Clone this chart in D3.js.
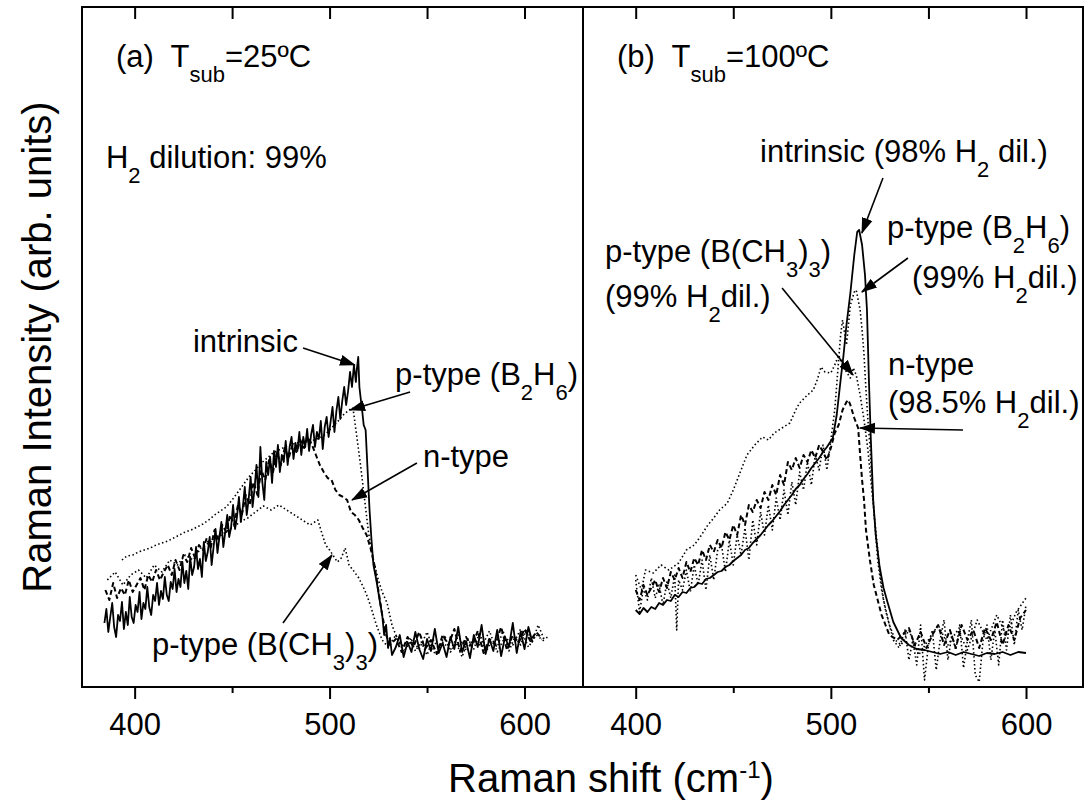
<!DOCTYPE html>
<html>
<head>
<meta charset="utf-8">
<script src="https://cdn.jsdelivr.net/npm/d3@7"></script>
<style>
  html, body { margin: 0; padding: 0; background: #fff; }
  svg { display: block; font-family: "Liberation Sans", Arial, Helvetica, sans-serif; }
</style>
</head>
<body>
<div id="chart"></div>
<script>
// x ticks (Raman shift, cm-1)
const shiftTicks = [400, 500, 600];
const shiftMinorTicks = [450, 550];

// (a) Tsub = 25 C : [shift, intensity (arb. units)]
const leftIntrinsic = [
  [384.5, 64], [385.5, 78], [386.5, 55], [387.5, 70], [388.5, 84], [389.5, 60], [390.5, 50], [391.5, 72],
  [392.5, 66], [393.5, 85], [394.5, 58], [395.5, 75], [396.5, 62], [397.5, 90], [398.5, 70], [399.5, 64],
  [400.5, 82], [401.5, 75], [402.5, 95], [403.5, 68], [404.5, 84], [405.5, 78], [406.5, 100], [407.5, 80],
  [408.5, 72], [409.5, 92], [410.5, 86], [411.5, 104], [412.5, 82], [413.5, 96], [414.5, 88], [415.5, 110],
  [416.5, 92], [417.5, 86], [418.5, 105], [419.5, 98], [420.5, 118], [421.5, 95], [422.5, 108], [423.5, 100],
  [424.5, 125], [425.5, 104], [426.5, 116], [427.5, 98], [428.5, 130], [429.5, 112], [430.5, 120], [431.5, 140],
  [432.5, 118], [433.5, 128], [434.5, 110], [435.5, 145], [436.5, 126], [437.5, 135], [438.5, 150], [439.5, 122],
  [440.5, 140], [441.5, 158], [442.5, 134], [443.5, 150], [444.5, 165], [445.5, 140], [446.5, 155], [447.5, 172],
  [448.5, 150], [449.5, 160], [450.5, 182], [451.5, 158], [452.5, 170], [453.5, 190], [454.5, 165], [455.5, 180],
  [456.5, 200], [457.5, 172], [458.5, 188], [459.5, 210], [460.5, 180], [461.5, 198], [462.5, 222], [463.5, 190],
  [464.5, 240], [465.5, 205], [466.5, 187], [467.5, 225], [468.5, 212], [469.5, 230], [470.5, 204], [471.5, 236],
  [472.5, 220], [473.5, 242], [474.5, 215], [475.5, 232], [476.5, 225], [477.5, 246], [478.5, 222], [479.5, 240],
  [480.5, 250], [481.5, 228], [482.5, 244], [483.5, 236], [484.5, 255], [485.5, 232], [486.5, 250], [487.5, 240],
  [488.5, 258], [489.5, 236], [490.5, 252], [491.5, 262], [492.5, 240], [493.5, 255], [494.5, 248], [495.5, 266],
  [496.5, 238], [497.5, 260], [498.5, 270], [499.5, 250], [500.5, 265], [501.5, 280], [502.5, 255], [503.5, 276],
  [504.5, 290], [505.5, 268], [506.5, 286], [507.5, 300], [508.5, 282], [509.5, 296], [510.5, 315], [511.5, 300],
  [512.5, 322], [513.5, 305], [514, 318], [514.7, 330], [515.3, 300], [516, 288], [516.8, 275], [517.5, 262],
  [518.5, 257], [519.5, 217], [520.5, 177], [521.5, 147], [522.5, 122], [524, 107], [525.5, 89], [527, 72],
  [528, 52], [529, 62], [530, 39], [531, 49], [532, 32], [534, 40], [536, 52], [538, 30],
  [540, 45], [542, 35], [544, 55], [546, 38], [548, 28], [550, 48], [552, 36], [554, 58],
  [556, 34], [558, 44], [560, 30], [562, 50], [564, 38], [566, 60], [568, 35], [570, 46],
  [572, 29], [574, 52], [576, 40], [578, 62], [580, 33], [582, 48], [584, 36], [586, 57],
  [588, 31], [590, 50], [592, 40], [594, 64], [596, 34], [598, 55], [600, 38], [602, 60],
  [604, 45]
];
const leftB2H6 = [
  [393.5, 127], [396, 131], [399, 132], [402, 135], [405, 137], [408, 139], [411, 142], [414, 144],
  [417, 146], [420, 149], [423, 152], [426, 155], [429, 157], [432, 160], [435, 163], [438, 167],
  [441, 172], [444, 176], [447, 180], [450, 187], [453, 195], [456, 203], [459, 211], [462, 217],
  [465, 224], [468, 229], [471, 234], [474, 237], [477, 240], [480, 242], [483, 244], [486, 245],
  [489, 246], [492, 247], [495, 249], [498, 253], [501, 259], [504, 265], [507, 272], [510, 277],
  [512, 279], [514, 250], [516, 220], [518, 187], [520, 154], [522.5, 127], [525, 107], [527, 95],
  [529.5, 84], [532, 62], [535, 47], [538, 40], [541, 50], [544, 36], [547, 45], [550, 32],
  [553, 48], [556, 38], [559, 52], [562, 35], [565, 44], [568, 30], [571, 48], [574, 38],
  [577, 55], [580, 34], [583, 46], [586, 40], [589, 56], [592, 36], [595, 50], [598, 42],
  [601, 58], [604, 45], [607, 62], [610, 48], [612, 50]
];
const leftNType = [
  [385, 97], [387, 87], [389, 104], [391, 89], [393, 99], [395, 92], [397, 107], [399, 95],
  [401, 102], [403, 109], [405, 97], [407, 112], [409, 105], [411, 117], [413, 107], [415, 115],
  [417, 122], [419, 112], [421, 127], [423, 117], [425, 132], [427, 125], [429, 139], [431, 129],
  [433, 142], [435, 137], [437, 149], [439, 139], [441, 157], [443, 147], [445, 162], [447, 155],
  [449, 172], [451, 162], [453, 182], [455, 172], [457, 192], [459, 182], [461, 205], [463, 192],
  [465, 217], [467, 207], [469, 227], [471, 215], [473, 235], [475, 222], [477, 239], [479, 229],
  [481, 242], [483, 235], [485, 247], [487, 239], [489, 250], [491, 242], [493, 232], [495, 222],
  [497, 215], [499, 209], [501, 207], [503, 197], [505, 192], [507, 190], [509, 187], [511, 175],
  [513, 172], [515, 167], [517, 159], [519, 152], [521, 139], [523, 122], [525, 97], [527, 72],
  [529, 52], [531, 42], [534, 48], [537, 35], [540, 50], [543, 40], [546, 55], [549, 38],
  [552, 47], [555, 33], [558, 52], [561, 42], [564, 58], [567, 36], [570, 50], [573, 40],
  [576, 56], [579, 34], [582, 48], [585, 42], [588, 60], [591, 37], [594, 52], [597, 44],
  [600, 58], [603, 46], [606, 55], [609, 48]
];
const leftBCH3 = [
  [386, 107], [390, 115], [394, 102], [398, 112], [402, 117], [406, 109], [410, 122], [414, 115],
  [418, 127], [422, 122], [426, 132], [430, 127], [434, 139], [438, 144], [442, 149], [446, 154],
  [450, 159], [454, 165], [458, 169], [462, 175], [466, 181], [470, 177], [474, 182], [478, 177],
  [482, 172], [486, 167], [490, 162], [494, 167], [496, 154], [498, 142], [500, 137], [502, 131],
  [504, 125], [506, 129], [508, 139], [510, 122], [512, 117], [515, 109], [518, 97], [520, 87],
  [522, 75], [524, 62], [527, 47], [530, 40], [534, 52], [538, 35], [542, 47], [546, 38],
  [550, 55], [554, 33], [558, 45], [562, 37], [566, 52], [570, 36], [574, 48], [578, 40],
  [582, 56], [586, 35], [590, 50], [594, 42], [598, 58], [602, 40], [606, 52], [610, 46]
];

// (b) Tsub = 100 C
const rightIntrinsic = [
  [400, 77], [402, 73], [404, 79], [406, 75], [408, 80], [410, 78], [412, 84], [414, 82],
  [416, 87], [418, 86], [420, 92], [422, 90], [424, 95], [426, 94], [428, 99], [430, 100],
  [432, 104], [434, 103], [436, 108], [438, 109], [440, 112], [442, 115], [444, 116], [446, 120],
  [448, 122], [450, 126], [452, 129], [454, 132], [456, 137], [458, 139], [460, 144], [462, 148],
  [464, 152], [466, 157], [468, 162], [470, 166], [472, 171], [474, 176], [476, 182], [478, 187],
  [480, 192], [482, 198], [484, 202], [486, 208], [488, 213], [490, 219], [492, 224], [494, 229],
  [496, 235], [498, 240], [500, 246], [501, 249], [503, 272], [505, 307], [506.5, 332], [508, 362],
  [510, 394], [512, 432], [513.5, 455], [514.5, 457], [516, 442], [517.5, 412], [518.5, 377], [519.5, 307],
  [520.5, 247], [521.7, 187], [523, 152], [525, 120], [527, 99], [529, 85], [532, 65], [536, 49],
  [540, 42], [544, 38], [548, 37], [552, 35], [556, 33], [560, 35], [564, 32], [568, 35],
  [572, 33], [576, 31], [580, 34], [584, 33], [588, 35], [592, 32], [596, 35], [600, 34]
];
const rightB2H6 = [
  [400, 107], [402, 75], [404, 99], [406, 87], [408, 109], [410, 89], [412, 102], [414, 82],
  [416, 105], [418, 89], [420, 112], [421, 57], [422, 107], [424, 97], [426, 117], [428, 95],
  [430, 122], [432, 102], [434, 127], [436, 97], [438, 132], [440, 107], [442, 137], [444, 142],
  [446, 115], [448, 147], [450, 122], [452, 152], [454, 132], [456, 159], [458, 127], [460, 167],
  [462, 142], [464, 175], [466, 152], [468, 182], [470, 157], [472, 189], [474, 167], [476, 197],
  [478, 172], [480, 205], [482, 182], [484, 215], [486, 197], [488, 225], [490, 202], [492, 232],
  [494, 217], [496, 242], [498, 217], [500, 247], [502, 277], [504, 327], [505, 352], [506, 367],
  [508, 342], [510, 382], [512, 395], [513, 397], [514, 387], [515, 377], [516, 357], [517, 332],
  [518, 297], [519, 267], [520, 242], [521, 207], [522, 177], [524, 127], [526, 97], [528, 77],
  [530, 62], [532, 47], [535, 39], [538, 57], [540, 27], [542, 47], [544, 22], [546, 62],
  [548, 7], [550, 42], [552, 57], [554, 17], [556, 47], [558, 67], [560, 27], [562, 52],
  [564, 37], [566, 62], [568, 19], [570, 47], [572, 67], [574, 12], [576, 5], [578, 47],
  [580, 62], [582, 27], [584, 57], [586, 22], [588, 67], [590, 37], [592, 72], [594, 42],
  [596, 77], [598, 57], [600, 82]
];
const rightBCH3 = [
  [400, 112], [403, 97], [405, 117], [409, 114], [413, 122], [417, 117], [422, 124], [426, 137],
  [430, 142], [433, 150], [437, 162], [440, 169], [443, 177], [447, 184], [450, 197], [453, 212],
  [457, 232], [461, 242], [465, 250], [468, 247], [471, 254], [475, 259], [479, 264], [482, 277],
  [484, 284], [488, 292], [491, 297], [493, 307], [495, 320], [497, 315], [500, 314], [502, 322],
  [504, 332], [506, 322], [508, 315], [510, 309], [511.5, 319], [513, 312], [515, 292], [517, 267],
  [519, 237], [521, 197], [523, 157], [525, 117], [527, 87], [530, 62], [533, 47], [536, 42],
  [540, 57], [545, 32], [550, 47], [555, 62], [560, 42], [565, 57], [570, 37], [575, 67],
  [580, 47], [585, 72], [590, 52], [595, 75], [600, 89]
];
const rightNType = [
  [400, 97], [402, 87], [404, 102], [406, 92], [408, 99], [410, 107], [412, 95], [414, 109],
  [416, 99], [418, 115], [420, 107], [422, 119], [424, 109], [426, 125], [428, 115], [430, 129],
  [432, 122], [434, 137], [436, 127], [438, 142], [440, 135], [442, 147], [444, 139], [446, 155],
  [448, 147], [450, 162], [452, 152], [454, 172], [456, 162], [458, 182], [460, 175], [462, 187],
  [464, 179], [466, 195], [468, 187], [470, 202], [472, 192], [474, 212], [476, 202], [478, 225],
  [480, 217], [482, 229], [484, 219], [486, 232], [488, 225], [490, 237], [492, 229], [494, 242],
  [496, 235], [498, 227], [500, 239], [502, 254], [504, 262], [506, 277], [508, 285], [509, 287],
  [510, 282], [512, 269], [514, 259], [515, 232], [516, 207], [517, 187], [518, 157], [520, 127],
  [522, 102], [524, 87], [526, 72], [528, 62], [530, 52], [534, 47], [540, 59], [543, 42],
  [546, 55], [549, 39], [552, 52], [555, 62], [558, 42], [561, 57], [564, 39], [567, 62],
  [570, 47], [573, 57], [576, 39], [579, 59], [582, 47], [585, 65], [588, 42], [591, 62],
  [594, 47], [597, 69], [600, 77]
];

const INTENSITY_DOMAIN = [0, 680];
const FRAME = { top: 7, bottom: 687 };
const FONT_SIZE = 31;
const SUB_SIZE = 22;
const SUB_SHIFT = 15;

const LINE_STYLES = {
  solid: { width: 1.8, dash: null },
  dotted: { width: 1.6, dash: "1.5 2.5" },
  dashed: { width: 2, dash: "5 3" }
};

/**
 * Panel definitions, built from the arrays above.
 */
const PANELS = [
  {
    range: [82, 583],
    domain: [373, 630],
    series: [
      { data: leftB2H6, style: "dotted" },
      { data: leftBCH3, style: "dotted" },
      { data: leftNType, style: "dashed" },
      { data: leftIntrinsic, style: "solid" }
    ],
    labels: [
      { at: [390.4, 620], parts: [["(a)  T"], ["sub", "sub"], ["=25ºC"]] },
      { at: [385.3, 519], parts: [["H"], ["2", "sub"], [" dilution: 99%"]] },
      { at: [429.9, 335], parts: [["intrinsic"]] },
      { at: [533.6, 302], parts: [["p-type (B"], ["2", "sub"], ["H"], ["6", "sub"], [")"]] },
      { at: [547.9, 220], parts: [["n-type"]] },
      { at: [408.9, 32], parts: [["p-type (B(CH"], ["3", "sub"], [")"], ["3", "sub"], [")"]] }
    ],
    arrows: [
      { from: [486.4, 339], to: [513.0, 322] },
      { from: [541.3, 295], to: [510.5, 277] },
      { from: [544.8, 224], to: [511.5, 187] },
      { from: [476.1, 64], to: [501.2, 132] }
    ]
  },
  {
    range: [583, 1083],
    domain: [373, 629.2],
    series: [
      { data: rightB2H6, style: "dotted" },
      { data: rightBCH3, style: "dotted" },
      { data: rightNType, style: "dashed" },
      { data: rightIntrinsic, style: "solid" }
    ],
    labels: [
      { at: [390.4, 620], parts: [["(b)  T"], ["sub", "sub"], ["=100ºC"]] },
      { at: [463.7, 525], parts: [["intrinsic (98% H"], ["2", "sub"], [" dil.)"]] },
      { at: [528.8, 449], parts: [["p-type (B"], ["2", "sub"], ["H"], ["6", "sub"], [")"]] },
      { at: [541.6, 399], parts: [["(99% H"], ["2", "sub"], ["dil.)"]] },
      { at: [384.3, 425], parts: [["p-type (B(CH"], ["3", "sub"], [")"], ["3", "sub"], [")"]] },
      { at: [384.3, 380], parts: [["(99% H"], ["2", "sub"], ["dil.)"]] },
      { at: [529.3, 312], parts: [["n-type"]] },
      { at: [529.3, 274], parts: [["(98.5% H"], ["2", "sub"], ["dil.)"]] }
    ],
    arrows: [
      { from: [526.7, 509], to: [515.9, 454] },
      { from: [539.5, 429], to: [515.9, 395] },
      { from: [475.0, 399], to: [511.4, 312] },
      { from: [567.7, 257], to: [514.9, 259] }
    ]
  }
];

/**
 * Appends a text element made of normal and subscript runs.
 *
 * @param {object} parent
 * @param {number} x
 * @param {number} y
 * @param {Array<Array<string>>} parts
 * @param {number} size
 * @returns {object}
 */
function appendRichText(parent, x, y, parts, size) {
  const text = parent.append("text")
    .attr("x", x)
    .attr("y", y)
    .style("font-size", `${size}px`)
    .style("white-space", "pre")
    .attr("fill", "#000");
  let shift = 0;
  parts.forEach(([content, mode]) => {
    const target = mode === "sub" ? SUB_SHIFT : 0;
    text.append("tspan")
      .attr("dy", target - shift)
      .style("font-size", mode ? `${SUB_SIZE}px` : null)
      .text(content);
    shift = target;
  });
  return text;
}

/**
 * Renders one panel: series, ticks, labels and arrows.
 *
 * @param {object} svg
 * @param {object} panel
 * @param {object} y
 * @returns {void}
 */
function renderPanel(svg, panel, y) {
  const x = d3.scaleLinear().domain(panel.domain).range(panel.range);
  const g = svg.append("g");

  const line = d3.line().x((d) => x(d[0])).y((d) => y(d[1]));
  g.append("g")
    .attr("fill", "none")
    .selectAll("path")
    .data(panel.series)
    .join("path")
    .attr("d", (s) => line(s.data))
    .attr("stroke", "#000")
    .attr("stroke-width", (s) => LINE_STYLES[s.style].width)
    .attr("stroke-dasharray", (s) => LINE_STYLES[s.style].dash)
    .attr("stroke-linejoin", "round");

  // bottom axis: labelled majors + short minors
  g.append("g")
    .attr("transform", `translate(0,${FRAME.bottom})`)
    .call(d3.axisBottom(x).tickValues(shiftTicks).tickSize(12).tickPadding(14).tickFormat(d3.format("d")))
    .call((a) => a.select(".domain").remove())
    .call((a) => a.selectAll("line").attr("stroke-width", 2))
    .call((a) => a.selectAll("text").style("font-size", `${FONT_SIZE}px`).attr("font-family", null).attr("fill", "#000"));
  g.append("g")
    .attr("transform", `translate(0,${FRAME.bottom})`)
    .call(d3.axisBottom(x).tickValues(shiftMinorTicks).tickSize(6).tickFormat(""))
    .call((a) => a.select(".domain").remove())
    .call((a) => a.selectAll("line").attr("stroke-width", 2));

  // top axis: inward ticks
  g.append("g")
    .attr("transform", `translate(0,${FRAME.top})`)
    .call(d3.axisBottom(x).tickValues(shiftTicks.concat(shiftMinorTicks)).tickSize(12).tickFormat(""))
    .call((a) => a.select(".domain").remove())
    .call((a) => a.selectAll("line").attr("stroke-width", 2));

  g.append("rect")
    .attr("x", panel.range[0])
    .attr("y", FRAME.top)
    .attr("width", panel.range[1] - panel.range[0])
    .attr("height", FRAME.bottom - FRAME.top)
    .attr("fill", "none")
    .attr("stroke", "#000")
    .attr("stroke-width", 2);

  panel.labels.forEach((label) => {
    appendRichText(g, x(label.at[0]), y(label.at[1]), label.parts, FONT_SIZE);
  });

  g.append("g")
    .selectAll("line")
    .data(panel.arrows)
    .join("line")
    .attr("x1", (a) => x(a.from[0]))
    .attr("y1", (a) => y(a.from[1]))
    .attr("x2", (a) => x(a.to[0]))
    .attr("y2", (a) => y(a.to[1]))
    .attr("stroke", "#000")
    .attr("stroke-width", 1.6)
    .attr("marker-end", "url(#arrowhead)");
}

/**
 * Renders the full two-panel Raman figure.
 *
 * @param {HTMLElement} container
 * @returns {void}
 */
function renderChart(container) {
  const width = 1085;
  const height = 805;
  const svg = d3.select(container).append("svg")
    .attr("width", width)
    .attr("height", height)
    .attr("viewBox", [0, 0, width, height]);

  svg.append("defs").append("marker")
    .attr("id", "arrowhead")
    .attr("markerUnits", "userSpaceOnUse")
    .attr("viewBox", "0 -6 16 12")
    .attr("refX", 15)
    .attr("refY", 0)
    .attr("markerWidth", 16)
    .attr("markerHeight", 12)
    .attr("orient", "auto")
    .append("path")
    .attr("d", "M0,-5.5L16,0L0,5.5Z")
    .attr("fill", "#000");

  const y = d3.scaleLinear().domain(INTENSITY_DOMAIN).range([FRAME.bottom, FRAME.top]);
  PANELS.forEach((panel) => renderPanel(svg, panel, y));

  svg.append("text")
    .attr("transform", `translate(51,${(FRAME.top + FRAME.bottom) / 2}) rotate(-90)`)
    .attr("text-anchor", "middle")
    .style("font-size", "40px")
    .text("Raman Intensity (arb. units)");

  const title = svg.append("text")
    .attr("x", 448)
    .attr("y", 792)
    .style("font-size", "40px");
  title.append("tspan").text("Raman shift (cm");
  title.append("tspan").attr("dy", -14).style("font-size", "24px").text("-1");
  title.append("tspan").attr("dy", 14).text(")");
}

renderChart(document.getElementById("chart"));
</script>
</body>
</html>
